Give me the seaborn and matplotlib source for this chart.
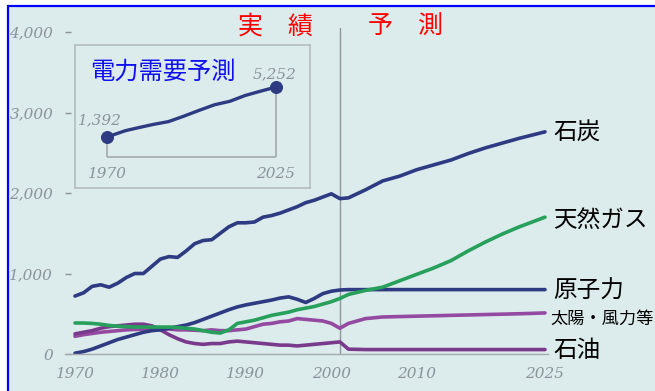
import matplotlib
matplotlib.use("Agg")
import matplotlib.pyplot as plt
import seaborn as sns
import pandas as pd
from matplotlib.patches import Rectangle
from matplotlib.lines import Line2D

# ---------------- data ----------------
years = [1970, 1971, 1972, 1973, 1974, 1975, 1976, 1977, 1978, 1979,
         1980, 1981, 1982, 1983, 1984, 1985, 1986, 1987, 1988, 1989,
         1990, 1991, 1992, 1993, 1994, 1995, 1996, 1997, 1998, 1999,
         2000, 2001, 2002, 2004, 2006, 2008, 2010, 2012, 2014, 2016,
         2018, 2020, 2022, 2025]

coal = [720, 760, 840, 860, 830, 880, 950, 1000, 1000, 1090,
        1180, 1210, 1200, 1280, 1370, 1410, 1420, 1500, 1580, 1630,
        1630, 1640, 1700, 1720, 1750, 1790, 1830, 1880, 1910, 1950,
        1990, 1930, 1940, 2040, 2150, 2210, 2290, 2350, 2410, 2490,
        2560, 2620, 2680, 2760]

gas = [385, 385, 380, 370, 355, 345, 340, 335, 335, 335,
       335, 335, 330, 320, 310, 290, 270, 260, 300, 380,
       400, 420, 450, 480, 500, 520, 550, 570, 590, 620,
       650, 690, 740, 790, 830, 910, 990, 1070, 1160, 1280,
       1390, 1490, 1580, 1700]

nuclear = [10, 30, 60, 100, 140, 180, 210, 240, 270, 290,
           300, 320, 340, 360, 390, 430, 470, 510, 550, 585,
           610, 630, 650, 670, 695, 710, 680, 640, 690, 750,
           780, 795, 800, 800, 800, 800, 800, 800, 800, 800,
           800, 800, 800, 800]

solar = [220, 240, 255, 270, 280, 290, 300, 305, 310, 315,
         315, 310, 300, 300, 295, 290, 300, 290, 290, 300,
         310, 340, 370, 380, 400, 410, 440, 430, 420, 410,
         380, 320, 380, 440, 460, 465, 470, 475, 480, 485,
         490, 495, 500, 510]

oil = [250, 270, 290, 320, 340, 350, 360, 370, 370, 350,
       300, 240, 190, 150, 130, 120, 130, 130, 150, 160,
       150, 140, 130, 120, 110, 110, 100, 110, 120, 130,
       140, 150, 60, 55, 55, 55, 55, 55, 55, 55,
       55, 55, 55, 55]

series_names = ["太陽・風力等", "石油", "原子力", "天然ガス", "石炭"]
series_values = [solar, oil, nuclear, gas, coal]

y_ticks = [0, 1000, 2000, 3000, 4000]
y_tick_labels = ["0", "1,000", "2,000", "3,000", "4,000"]
x_ticks = [1970, 1980, 1990, 2000, 2010, 2025]
x_tick_labels = ["1970", "1980", "1990", "2000", "2010", "2025"]
forecast_start = 2001

demand_years = [1970, 1976, 1980, 1985, 1990, 1995, 2000, 2005, 2010, 2015, 2020, 2025]
demand_values = [1392, 1880, 2100, 2360, 2580, 3000, 3450, 3880, 4150, 4600, 4930, 5252]

# ---------------- style ----------------
W, H = 655, 391
navy = "#2e3a82"
palette = {"石炭": navy, "原子力": navy, "天然ガス": "#27a05c",
           "石油": "#7a3a8c", "太陽・風力等": "#934aa0"}
label_size = {"石炭": 17, "天然ガス": 17, "原子力": 17, "太陽・風力等": 12.4, "石油": 17}
label_dx = {"石炭": 6, "天然ガス": 6, "原子力": 6, "太陽・風力等": 4, "石油": 6}
label_dy = {"石炭": 0, "天然ガス": -2, "原子力": -1, "太陽・風力等": -4.5, "石油": -1}
bg = "#dcebeb"
tick_grey = "#8a929b"

sns.set_theme(style="white")
plt.rcParams["font.family"] = ["Noto Sans CJK JP", "DejaVu Sans"]

fig = plt.figure(figsize=(W / 100, H / 100), dpi=100, facecolor="white")
fig.patches.append(Rectangle((8 / W, 0), 1 - 8 / W, 1 - 6 / H, transform=fig.transFigure,
                             facecolor=bg, edgecolor="none", zorder=-10))
fig.lines.append(Line2D([8 / W, 8 / W], [0, 1 - 6 / H], transform=fig.transFigure,
                        color="#0000ff", lw=1.6, zorder=5))
fig.lines.append(Line2D([8 / W, 1], [1 - 6 / H, 1 - 6 / H], transform=fig.transFigure,
                        color="#0000ff", lw=1.6, zorder=5))

# main axes
ax = fig.add_axes([65 / W, 1 - 354 / H, (548 - 65) / W, (354 - 28) / H])
ax.set_facecolor("none")

rows = []
for name, vals in zip(series_names, series_values):
    for yr, v in zip(years, vals):
        rows.append({"year": yr, "value": v, "source": name})
df = pd.DataFrame(rows)

sns.lineplot(data=df, x="year", y="value", hue="source", hue_order=series_names,
             palette=palette, linewidth=2.6, legend=False, ax=ax)

ax.set_xlim(1970 - 10 / 8.545, 2025 + 3 / 8.545)
ax.set_ylim(0, 4050)
ax.axvline(forecast_start, color="#8f969e", lw=1.0, zorder=0.5)

for s in ["left", "top", "right"]:
    ax.spines[s].set_visible(False)
ax.spines["bottom"].set_color("#a3aab0")
ax.spines["bottom"].set_linewidth(1.0)

serif = dict(family="DejaVu Serif", style="italic", size=11, color=tick_grey)
ax.set_yticks(y_ticks)
ax.set_yticklabels(y_tick_labels, fontdict=serif)
ax.set_xticks(x_ticks)
ax.set_xticklabels(x_tick_labels, fontdict=serif)
ax.tick_params(axis="y", direction="in", length=4, width=1, color=tick_grey, pad=8.5, left=True)
ax.tick_params(axis="x", length=0, pad=9)
ax.set_xlabel("")
ax.set_ylabel("")

for name, vals in zip(series_names, series_values):
    ax.annotate(name, xy=(years[-1], vals[-1]), xytext=(label_dx[name], label_dy[name]),
                textcoords="offset points", va="center", ha="left",
                fontsize=label_size[name], color="black", annotation_clip=False)

fig.text(275 / W, 1 - 27 / H, "実　績", color="#ff0000", fontsize=18, ha="center", va="center")
fig.text(405 / W, 1 - 27 / H, "予　測", color="#ff0000", fontsize=18, ha="center", va="center")

# inset: electricity demand forecast
axi = fig.add_axes([75 / W, 1 - 188 / H, 235 / W, 143 / H])
axi.set_facecolor("none")
for s in axi.spines.values():
    s.set_visible(True)
    s.set_color("#b4bbc1")
    s.set_linewidth(1.2)
axi.set_xticks([])
axi.set_yticks([])
px_yr = 3.073
px_val = 77.2
axi.set_xlim(1970 - 32 / px_yr, 2025 + 34 / px_yr)
axi.set_ylim(1392 - 51 * px_val, 1392 + 92 * px_val)
base = 1392 - 20 * px_val

axi.vlines([demand_years[0], demand_years[-1]], base, [demand_values[0], demand_values[-1]],
           color="#a3aab0", lw=1.2)
axi.hlines(base, demand_years[0], demand_years[-1], color="#a3aab0", lw=1.2)
sns.lineplot(x=demand_years, y=demand_values, color=navy, linewidth=2.4, ax=axi)
sns.scatterplot(x=[demand_years[0], demand_years[-1]], y=[demand_values[0], demand_values[-1]],
                color=navy, s=75, edgecolor=navy, zorder=5, ax=axi)

axi.annotate(f"{demand_values[0]:,}", xy=(demand_years[0], demand_values[0]), xytext=(-5, 12),
             textcoords="offset points", ha="center", va="center", **serif)
axi.annotate(f"{demand_values[-1]:,}", xy=(demand_years[-1], demand_values[-1]), xytext=(-1, 9.5),
             textcoords="offset points", ha="center", va="center", **serif)
for yr in (demand_years[0], demand_years[-1]):
    axi.annotate(str(yr), xy=(yr, base), xytext=(0, -12), textcoords="offset points",
                 ha="center", va="center", **serif)
axi.text(0.375, 0.811, "電力需要予測", transform=axi.transAxes, color="#1010f0",
         fontsize=17.5, ha="center", va="center")

fig.savefig("out.png", dpi=100, facecolor=fig.get_facecolor())
